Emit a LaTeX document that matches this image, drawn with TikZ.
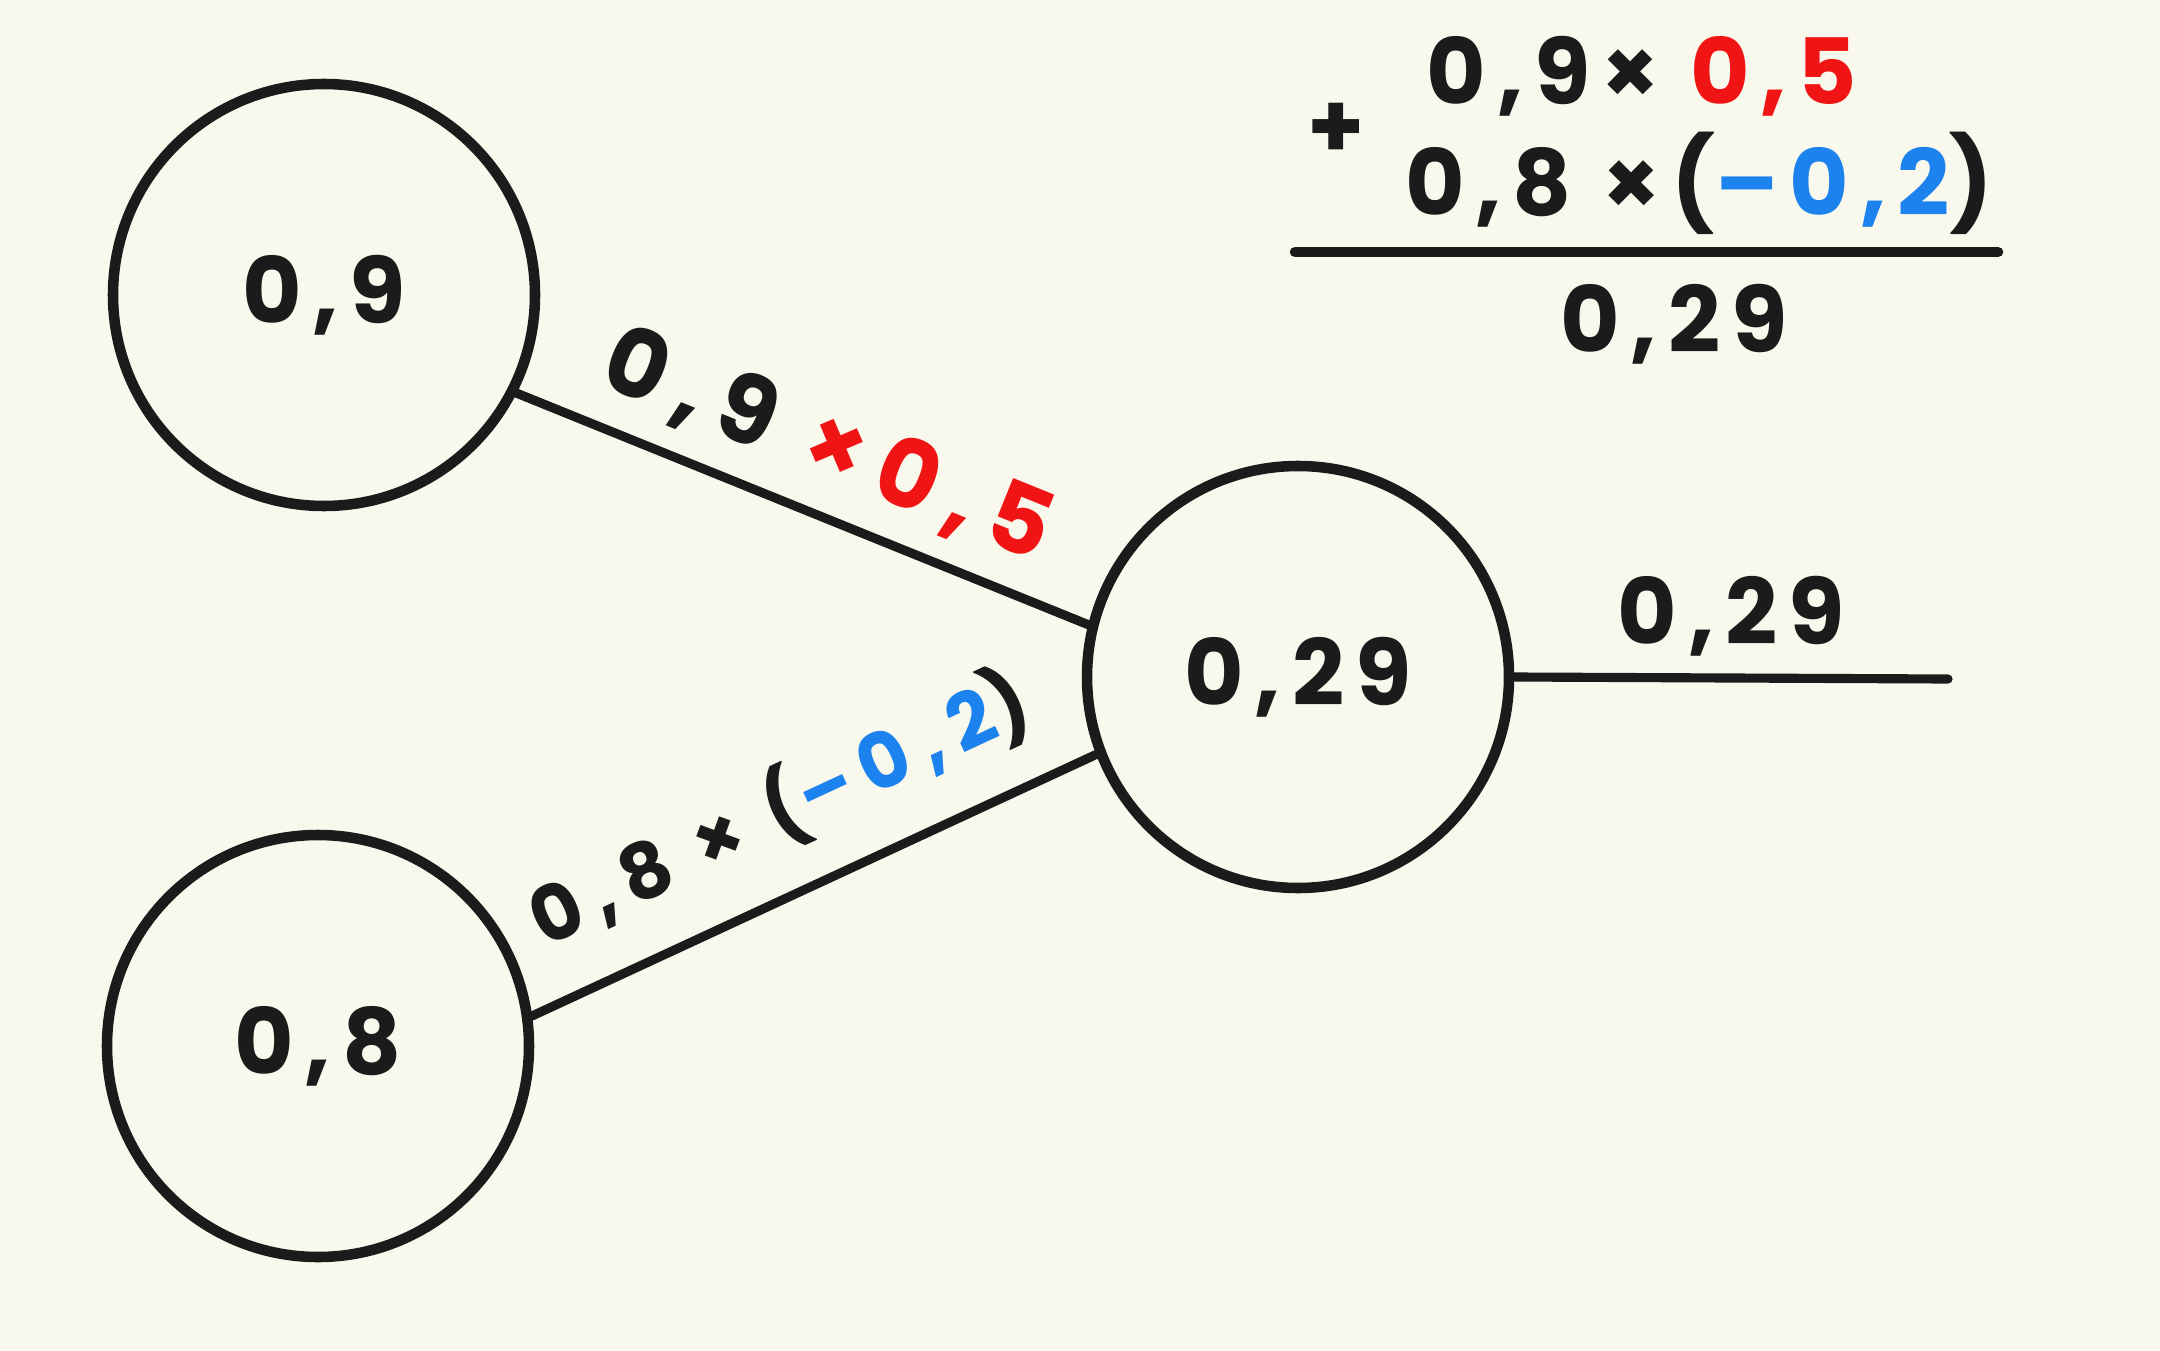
\documentclass[tikz,border=0pt]{standalone}
\usepackage{fontspec}
\setmainfont{Poppins}[LetterSpace=12]
\newfontfamily\nnwide{Poppins}[LetterSpace=17]
\usepackage{tikz}
\definecolor{nnpaper}{HTML}{F9F8EC}
\definecolor{nnink}{HTML}{1B1B1B}
\definecolor{nnred}{HTML}{F01414}
\definecolor{nnblue}{HTML}{1C82EE}
\newcommand{\nnfont}{\linespread{1}\fontsize{26}{30}\selectfont\bfseries}
\newcommand{\nnedgefont}{\linespread{1}\fontsize{27}{31}\selectfont\nnwide\bfseries}
\newcommand{\nnsmallfont}{\linespread{1}\fontsize{22}{26}\selectfont\nnwide\bfseries}
\tikzset{
    nn/chart/.style={font=\nnfont, every node/.style={align=center}, text=nnink},
    nn/neuron/.style={circle, draw=nnink, line width=3pt, minimum size=4.22cm, inner sep=0pt},
    nn/wire/.style={line width=2.6pt, draw=nnink, line cap=round},
    nn/rule/.style={line width=3pt, draw=nnink, line cap=round},
    nn/edgelabel/.style={font=\nnedgefont, inner sep=2pt},
    nn/smalllabel/.style={font=\nnsmallfont, inner sep=2pt},
    nn/sum/.style={font=\nnfont, inner sep=0pt}
}

\begin{document}
\begin{tikzpicture}[nn/chart]
    \fill[nnpaper] (0,0) rectangle (21.6,13.5);
    \useasboundingbox (0,0) rectangle (21.6,13.5);
    % neurons
    \node[nn/neuron] (in1) at (3.24,10.55) {0,9};
    \node[nn/neuron] (in2) at (3.18,3.04) {0,8};
    \node[nn/neuron] (sum) at (12.98,6.73) {0,29};
    \coordinate (outend) at (19.48,6.71);
    % weighted inputs
    \draw[nn/wire] (in1.333) -- node[nn/edgelabel, sloped, above=4pt] {0,9 \textcolor{nnred}{×0,5}} (sum.166);
    \draw[nn/wire] (in2.8) -- node[nn/smalllabel, sloped, above=8pt] {0,8 × (\textcolor{nnblue}{–0,2})} (sum.201);
    \draw[nn/wire] (sum.east) -- node[nn/sum, above=5pt] {0,29} (outend);
    % sum on the side
    \node[nn/sum] (plus) at (13.36,12.19) {+};
    \node[nn/sum] (term1) at (16.42,12.74) {0,9× \textcolor{nnred}{0,5}};
    \node[nn/sum] (term2) at (16.99,11.67) {0,8 ×(\textcolor{nnblue}{–0,2})};
    \coordinate (ruleleft) at (12.95,10.98);
    \coordinate (ruleright) at (19.98,10.98);
    \draw[nn/rule] (ruleleft) -- (ruleright);
    \node[nn/sum] (total) at (16.74,10.26) {0,29};
\end{tikzpicture}
\end{document}
